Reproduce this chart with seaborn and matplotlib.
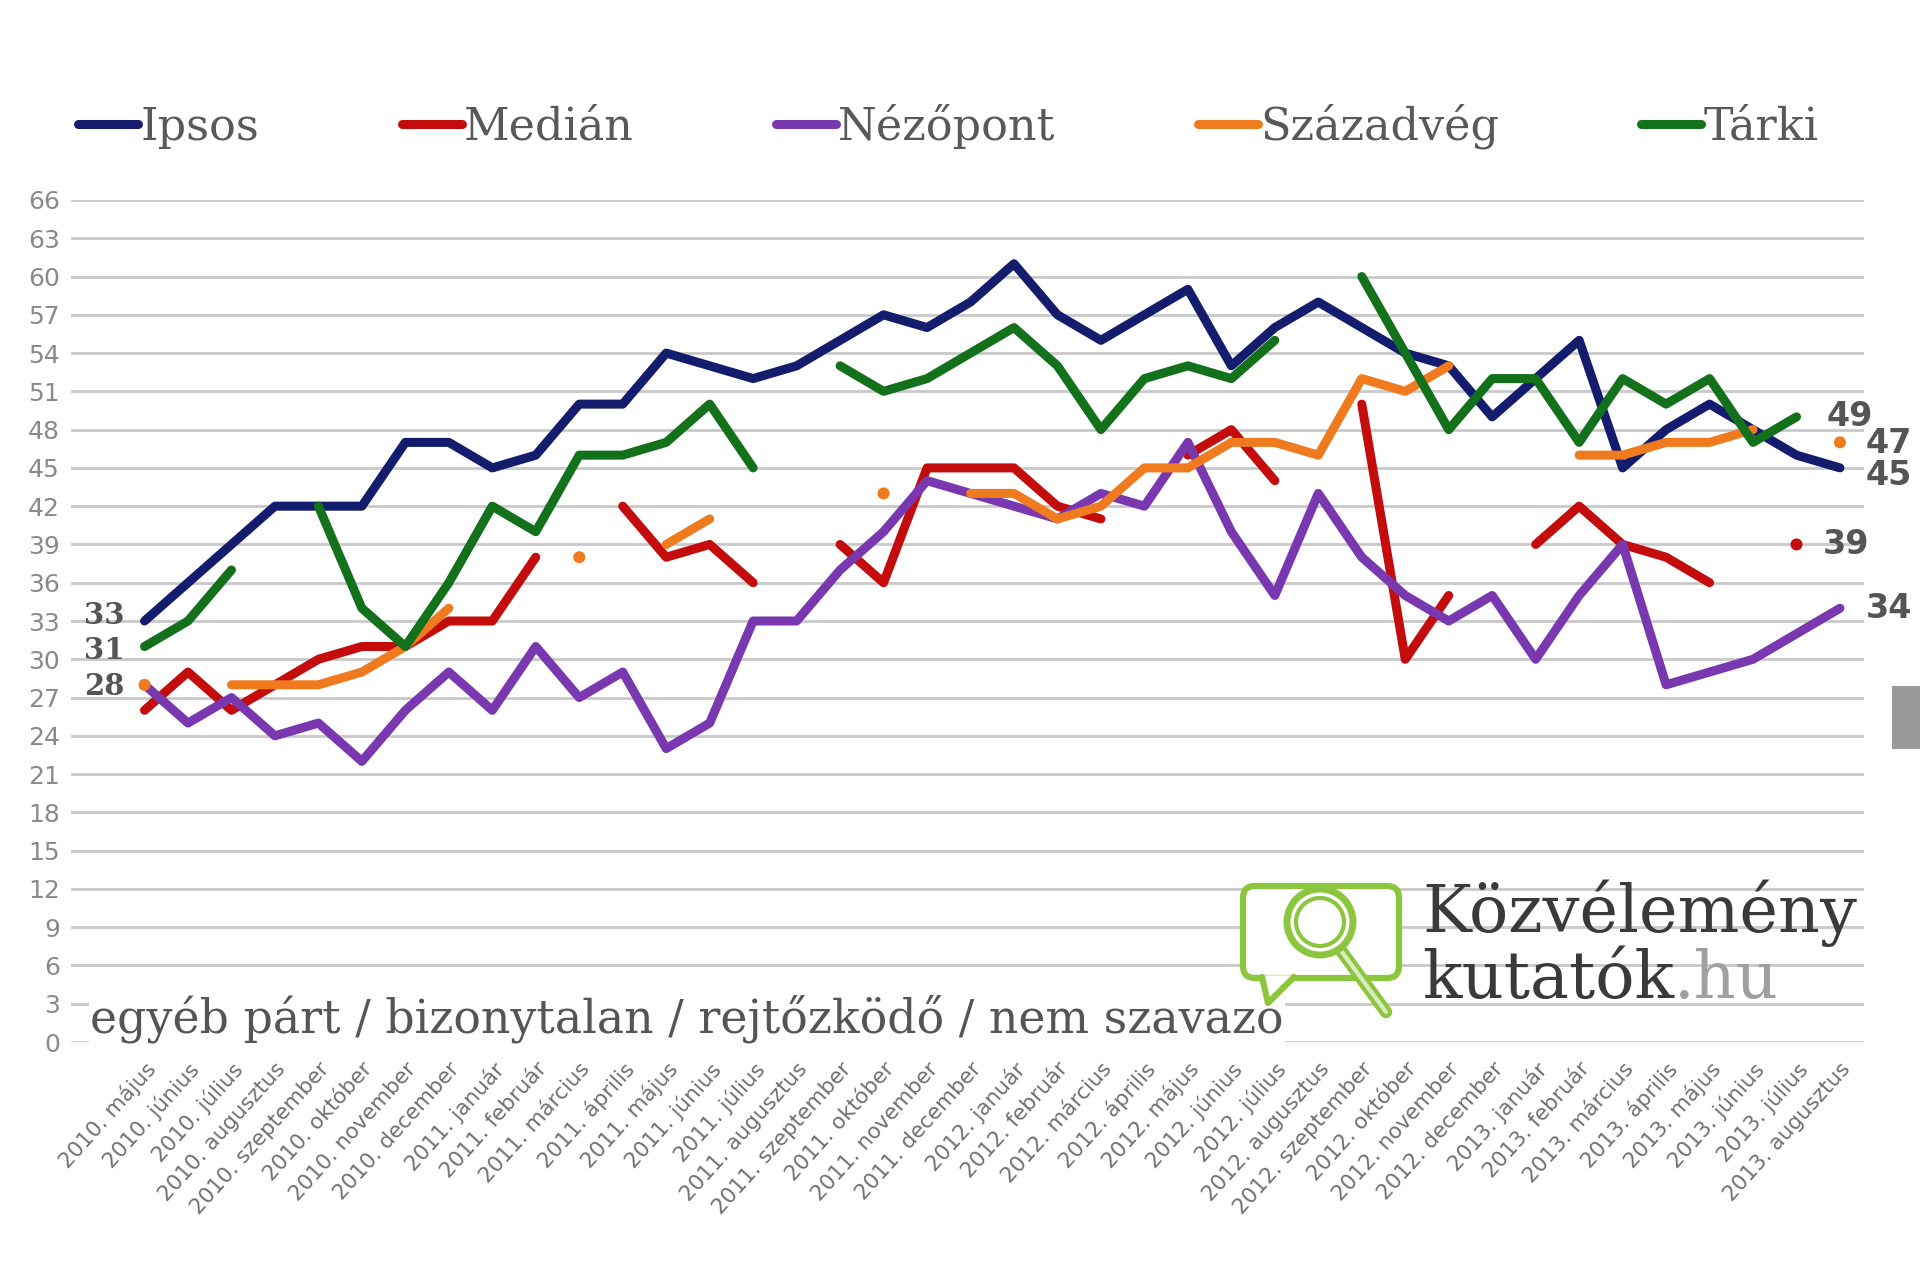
import numpy as np
import pandas as pd
import matplotlib
matplotlib.use("Agg")
import matplotlib.pyplot as plt
import seaborn as sns
from matplotlib.lines import Line2D
from matplotlib.patches import FancyBboxPatch, Circle, Rectangle

# ---------------------------------
# Data
# ---------------------------------

months = [
    "2010. május", "2010. június", "2010. július", "2010. augusztus",
    "2010. szeptember", "2010. október", "2010. november", "2010. december",
    "2011. január", "2011. február", "2011. március", "2011. április",
    "2011. május", "2011. június", "2011. július", "2011. augusztus",
    "2011. szeptember", "2011. október", "2011. november", "2011. december",
    "2012. január", "2012. február", "2012. március", "2012. április",
    "2012. május", "2012. június", "2012. július", "2012. augusztus",
    "2012. szeptember", "2012. október", "2012. november", "2012. december",
    "2013. január", "2013. február", "2013. március", "2013. április",
    "2013. május", "2013. június", "2013. július", "2013. augusztus",
]

ipsos = [33, 36, 39, 42, 42, 42, 47, 47, 45, 46, 50, 50, 54, 53, 52, 53, 55, 57, 56, 58,
         61, 57, 55, 57, 59, 53, 56, 58, 56, 54, 53, 49, 52, 55, 45, 48, 50, 48, 46, 45]
median = [26, 29, 26, 28, 30, 31, 31, 33, 33, 38, None, 42, 38, 39, 36, None, 39, 36, 45, 45,
          45, 42, 41, None, 46, 48, 44, None, 50, 30, 35, None, 39, 42, 39, 38, 36, None, 39, None]
nezopont = [28, 25, 27, 24, 25, 22, 26, 29, 26, 31, 27, 29, 23, 25, 33, 33, 37, 40, 44, 43,
            42, 41, 43, 42, 47, 40, 35, 43, 38, 35, 33, 35, 30, 35, 39, 28, 29, 30, 32, 34]
szazadveg = [28, None, 28, 28, 28, 29, 31, 34, None, None, 38, None, 39, 41, None, None, None, 43, None, 43,
             43, 41, 42, 45, 45, 47, 47, 46, 52, 51, 53, None, None, 46, 46, 47, 47, 48, None, 47]
tarki = [31, 33, 37, None, 42, 34, 31, 36, 42, 40, 46, 46, 47, 50, 45, None, 53, 51, 52, 54,
         56, 53, 48, 52, 53, 52, 55, None, 60, 54, 48, 52, 52, 47, 52, 50, 52, 47, 49, None]

pollsters = ["Ipsos", "Medián", "Nézőpont", "Századvég", "Tárki"]
colors = ["#141c6e", "#c40c0c", "#7a38b0", "#f07a1e", "#13711c"]

# first values of the lines, labelled on the left (label, value, text offset)
left_labels = [("33", 33, 0.4), ("31", 31, -0.3), ("28", 28, -0.1)]
right_labels = [(38.7, 49, "49"), (39.6, 46.9, "47"), (39.6, 44.4, "45"),
                (38.6, 39, "39"), (39.6, 34, "34")]

series = dict(zip(pollsters, [ipsos, median, nezopont, szazadveg, tarki]))
palette = dict(zip(pollsters, colors))

# split each series into unbroken runs
rows = []
for name, vals in series.items():
    seg = 0
    prev = None
    for i, v in enumerate(vals):
        if v is None:
            if prev is not None:
                seg += 1
            prev = None
            continue
        rows.append((name, f"{name}-{seg}", i, v))
        prev = v
df = pd.DataFrame(rows, columns=["pollster", "seg", "idx", "value"])
seg_size = df.groupby("seg")["idx"].transform("size")
lines_df = df[seg_size > 1]
dots_df = df[seg_size == 1]

# ---------------------------------
# Plot
# ---------------------------------

sns.set_theme(style="white")
plt.rcParams["font.family"] = ["DejaVu Sans"]

fig = plt.figure(figsize=(19.2, 12.77), dpi=100)
ax = fig.add_axes([0.037, 0.184, 0.934, 0.6594])

for y in range(0, 67, 3):
    ax.axhline(y, color="#c9c9c9", lw=2, zorder=0)

sns.lineplot(data=lines_df, x="idx", y="value", hue="pollster", units="seg",
             estimator=None, palette=palette, hue_order=pollsters, sort=True,
             lw=6.5, marker="o", markersize=4, markeredgewidth=0,
             solid_capstyle="round", solid_joinstyle="round",
             legend=False, ax=ax)

sns.scatterplot(data=dots_df, x="idx", y="value", hue="pollster",
                palette=palette, hue_order=pollsters, s=75, linewidth=0,
                legend=False, ax=ax, zorder=5)

ax.set_xlim(-1.69, 39.56)
ax.set_ylim(0, 66)
ax.set_yticks(range(0, 67, 3))
ax.set_xticks(range(len(months)))
ax.set_xticklabels(months, rotation=48, ha="right", rotation_mode="anchor",
                   fontsize=15.5, color="#707070")
ax.tick_params(axis="y", labelsize=18, labelcolor="#8a8a8a", length=0, pad=8)
ax.tick_params(axis="x", length=0, pad=12)
ax.set_xlabel("")
ax.set_ylabel("")
for s in ax.spines.values():
    s.set_visible(False)

# value labels at both ends
for t, v, off in left_labels:
    ax.text(-0.45, v + off, t, ha="right", va="center", fontsize=21,
            family="DejaVu Serif", fontweight="bold", color="#555555")
for x, y, t in right_labels:
    ax.text(x, y, t, ha="left", va="center", fontsize=24, fontweight="bold",
            color="#555555", clip_on=False)

# legend
handles = [Line2D([], [], color=c, lw=6.5, marker="o", markersize=4,
                  solid_capstyle="round") for c in colors]
leg = fig.legend(handles, pollsters, loc="center", bbox_to_anchor=(0.494, 0.901),
                 ncol=5, frameon=False, handlelength=1.35, handletextpad=0.05,
                 columnspacing=3.2,
                 prop={"family": "DejaVu Serif", "size": 32})
for t in leg.get_texts():
    t.set_color("#595959")

# note at the bottom
fig.text(0.047, 0.202, "egyéb párt / bizonytalan / rejtőzködő / nem szavazó",
         ha="left", va="center", fontsize=33, family="DejaVu Serif", color="#555555",
         bbox=dict(facecolor="white", edgecolor="none", pad=1))

# logo overlay in pixel coordinates
ov = fig.add_axes([0, 0, 1, 1], zorder=10)
ov.set_xlim(0, 1920)
ov.set_ylim(1277, 0)
ov.axis("off")
ov.patch.set_alpha(0)

green = "#8cc63f"
ov.add_patch(FancyBboxPatch((1243, 886), 156, 92, boxstyle="round,pad=0,rounding_size=12",
                            facecolor="white", edgecolor=green, lw=4.5))
ov.fill([1262, 1268, 1294], [976, 1003, 976], color="white", zorder=3)
ov.plot([1262, 1268, 1294], [977, 1003, 977], color=green, lw=4.5,
        solid_joinstyle="round", zorder=4)
ov.plot([1342, 1386], [952, 1012], color=green, lw=9, solid_capstyle="round", zorder=4)
ov.plot([1342, 1386], [952, 1012], color="#d9ecc0", lw=3, solid_capstyle="round", zorder=5)
ov.add_patch(Circle((1320, 922), 33, facecolor="white", edgecolor=green, lw=5, zorder=6))
ov.add_patch(Circle((1320, 922), 24, facecolor="none", edgecolor=green, lw=3, zorder=6))

ov.text(1422, 913, "Közvélemény", ha="left", va="center", fontsize=47,
        family="DejaVu Serif", color="#3a3a3a")
kt = ov.text(1422, 980, "kutatók", ha="left", va="center", fontsize=47,
             family="DejaVu Serif", color="#3a3a3a")
ov.annotate(".hu", xy=(1, 0), xycoords=kt, ha="left", va="bottom", fontsize=47,
            family="DejaVu Serif", color="#a0a0a0")

# grey tab at the right edge
ov.add_patch(Rectangle((1892, 686), 28, 63, facecolor="#9a9a9a", edgecolor="none"))

fig.savefig("out.png", dpi=100, facecolor="white")
